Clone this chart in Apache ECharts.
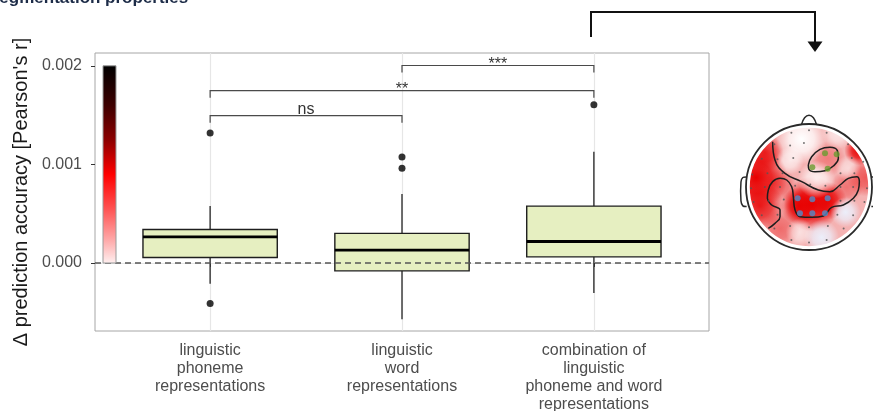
<!DOCTYPE html>
<html>
<head>
<meta charset="utf-8">
<script src="https://cdn.jsdelivr.net/npm/echarts@6/dist/echarts.min.js"></script>
<style>
  html, body { margin: 0; padding: 0; background: #ffffff; }
  #chart { width: 873px; height: 411px; }
</style>
</head>
<body>
<div id="chart"></div>
<script>
// ---- categories and box-plot statistics -------------------------------
const categories = [
  'linguistic\nphoneme\nrepresentations',
  'linguistic\nword\nrepresentations',
  'combination of\nlinguistic\nphoneme and word\nrepresentations'
];
const categoryPos = [1, 2, 3];
// [lower whisker, Q1, median, Q3, upper whisker]
const phonemeStats = [-0.00021, 0.000056, 0.000265, 0.00034, 0.000577];
const wordStats = [-0.000571, -0.00008, 0.00013, 0.0003, 0.000699];
const combinationStats = [-0.000304, 0.000062, 0.000218, 0.000577, 0.001129];
// outlying observations: [category position, value]
const outlierPoints = [[1, 0.001319], [1, -0.000412], [2, 0.001075], [2, 0.00096], [3, 0.001604]];

// ---- axes -------------------------------------------------------------
const yTickValues = [0, 0.001, 0.002];
const yMinorGridValues = [-0.0005, 0.0005, 0.0015];
const yRange = [-0.00069, 0.00213];
const xRange = [0.4, 3.6];
const zeroReference = 0;

// ---- pairwise comparisons ---------------------------------------------
const comparisonPairs = [[1, 2], [1, 3], [2, 3]];
const comparisonHeights = [0.001495, 0.001749, 0.002003];
const comparisonLabels = ['ns', '**', '***'];
const comparisonTip = 0.000072;

// ---- colour scale of the scalp map --------------------------------------
const colorbarRange = [0, 0.002];
const colorbarStops = [
  [0, '#000000'], [0.2, '#3d0000'], [0.38, '#8e0000'], [0.55, '#ff0000'],
  [0.72, '#ff5050'], [0.88, '#ffa8a8'], [1, '#fff0f0']
];

// ---- scalp map (head units, radius 1, nose up) --------------------------
const electrodeGrey = [
  [-0.28, 0.86], [0, 0.9], [0.28, 0.86],
  [-0.55, 0.68], [-0.3, 0.66], [-0.08, 0.7], [0.62, 0.68],
  [-0.75, 0.45], [-0.5, 0.44], [-0.25, 0.46], [0.68, 0.46], [0.86, 0.4],
  [-0.9, 0.2], [-0.66, 0.22], [-0.42, 0.22], [-0.15, 0.24], [0.5, 0.22], [0.72, 0.22],
  [-0.92, -0.02], [-0.7, 0], [-0.46, 0], [-0.22, 0.02], [0.02, 0.04], [0.26, 0.02], [0.5, 0], [0.7, 0], [0.92, -0.02],
  [-0.88, -0.24], [-0.64, -0.22], [-0.4, -0.2], [0.5, -0.22], [0.72, -0.22], [0.88, -0.24],
  [-0.75, -0.45], [-0.5, -0.44], [0.45, -0.44], [0.7, -0.45],
  [-0.55, -0.66], [-0.3, -0.62], [0, -0.64], [0.3, -0.62], [0.55, -0.66],
  [-0.28, -0.84], [0, -0.88], [0.28, -0.84]
];
const electrodeFrontal = [[0.254, 0.534], [0.439, 0.519], [0.053, 0.312], [0.296, 0.291]];
const electrodeCentral = [[-0.18, -0.18], [0.053, -0.196], [0.296, -0.18], [-0.143, -0.418], [0.053, -0.418], [0.254, -0.418]];
const contourOuter = [
  [-0.577, 0.72], [-0.54, 0.429], [-0.381, 0.217], [-0.116, 0.085], [0.148, -0.048], [0.333, -0.074],
  [0.492, 0.032], [0.624, 0.138], [0.757, 0.164], [0.799, 0.085], [0.783, -0.048], [0.704, -0.18],
  [0.545, -0.286], [0.36, -0.323], [0.228, -0.46], [0.042, -0.481], [-0.143, -0.471], [-0.222, -0.365],
  [-0.249, -0.153], [-0.275, 0.005], [-0.354, 0.111], [-0.46, 0.138], [-0.577, 0.085], [-0.646, -0.048],
  [-0.661, -0.18], [-0.593, -0.286], [-0.46, -0.365], [-0.46, -0.471], [-0.54, -0.577], [-0.646, -0.656]
];
const contourFrontal = [
  [-0.011, 0.349], [0.042, 0.481], [0.175, 0.598], [0.333, 0.63], [0.45, 0.577], [0.466, 0.455],
  [0.386, 0.333], [0.254, 0.259], [0.095, 0.243], [0.0, 0.281], [-0.011, 0.349]
];
// activation patches: [x, y, radius, opacity, tone index]
const fieldTones = ['232,0,0', '255,255,255', '236,238,250'];
const fieldPatches = [
  [-0.84, 0.15, 0.5, 1.0, 0], [-0.7, 0.55, 0.3, 0.8, 0], [-0.78, -0.3, 0.38, 0.85, 0],
  [0.05, -0.27, 0.44, 1.0, 0], [-0.15, -0.3, 0.3, 0.95, 0], [0.3, -0.22, 0.3, 0.9, 0],
  [0.8, 0.58, 0.24, 1.0, 0], [0.9, 0.15, 0.3, 0.5, 0], [0.3, 0.45, 0.28, 0.3, 0],
  [-0.45, -0.66, 0.3, 0.4, 0], [0.6, 0.0, 0.26, 0.35, 0], [-0.45, 0.02, 0.26, 0.4, 0],
  [-0.12, 0.76, 0.4, 1.0, 1], [0.12, 0.12, 0.3, 0.8, 1], [-0.3, 0.42, 0.22, 0.7, 1],
  [0.46, 0.86, 0.26, 0.7, 1], [0.58, -0.4, 0.24, 1.0, 2], [0.2, -0.8, 0.28, 1.0, 2],
  [-0.15, -0.72, 0.22, 0.6, 1], [0.62, 0.3, 0.2, 0.5, 1]
];
const headCenter = [0, 0];

const FONT = "'Liberation Sans', Arial, Helvetica, sans-serif";
const boxWidth = 0.7;

const boxRows = [phonemeStats, wordStats, combinationStats].map((s, i) => [categoryPos[i]].concat(s));
const comparisonRows = comparisonPairs.map((p, i) => [p[0], p[1], comparisonHeights[i]]);

const chart = echarts.init(document.getElementById('chart'), null, { renderer: 'canvas' });

function renderBox(params, api) {
  const x = api.value(0);
  const pLo = api.coord([x, api.value(1)]);
  const pQ1 = api.coord([x, api.value(2)]);
  const pMed = api.coord([x, api.value(3)]);
  const pQ3 = api.coord([x, api.value(4)]);
  const pHi = api.coord([x, api.value(5)]);
  const half = api.size([boxWidth, 0])[0] / 2;
  return {
    type: 'group',
    children: [
      { type: 'line', shape: { x1: pHi[0], y1: pHi[1], x2: pQ3[0], y2: pQ3[1] }, style: { stroke: '#333333', lineWidth: 1.4 } },
      { type: 'line', shape: { x1: pQ1[0], y1: pQ1[1], x2: pLo[0], y2: pLo[1] }, style: { stroke: '#333333', lineWidth: 1.4 } },
      { type: 'rect', shape: { x: pQ3[0] - half, y: pQ3[1], width: half * 2, height: pQ1[1] - pQ3[1] },
        style: { fill: '#e6efc1', stroke: '#1e1e1e', lineWidth: 1.4 } },
      { type: 'line', shape: { x1: pMed[0] - half, y1: pMed[1], x2: pMed[0] + half, y2: pMed[1] },
        style: { stroke: '#000000', lineWidth: 2.8 } }
    ]
  };
}

function renderComparison(params, api) {
  const a = api.value(0), b = api.value(1), y = api.value(2);
  const p1 = api.coord([a, y - comparisonTip]);
  const p2 = api.coord([a, y]);
  const p3 = api.coord([b, y]);
  const p4 = api.coord([b, y - comparisonTip]);
  const label = comparisonLabels[params.dataIndex];
  // star glyphs sit high in the em box, so they are set a little lower
  const drop = label.indexOf('*') >= 0 ? 7 : 2;
  return {
    type: 'group',
    children: [
      { type: 'polyline', shape: { points: [p1, p2, p3, p4] }, style: { stroke: '#4a4a4a', lineWidth: 1.2, fill: null } },
      { type: 'text', x: (p2[0] + p3[0]) / 2, y: p2[1] + drop,
        style: { text: label, align: 'center', verticalAlign: 'bottom', fontSize: 16, fontFamily: FONT, fill: '#333333' } }
    ]
  };
}

function renderPatch(params, api) {
  const c = api.coord([api.value(0), api.value(1)]);
  const r = api.size([api.value(2), 0])[0];
  const a = api.value(3);
  const tone = fieldTones[api.value(4)];
  return {
    type: 'circle',
    shape: { cx: c[0], cy: c[1], r: r },
    style: {
      fill: {
        type: 'radial', x: 0.5, y: 0.5, r: 0.5,
        colorStops: [
          { offset: 0, color: 'rgba(' + tone + ',' + a + ')' },
          { offset: 0.5, color: 'rgba(' + tone + ',' + (a * 0.75) + ')' },
          { offset: 1, color: 'rgba(' + tone + ',0)' }
        ]
      }
    }
  };
}

function renderHeadFill(params, api) {
  const c = api.coord([api.value(0), api.value(1)]);
  const r = api.size([1, 0])[0];
  return { type: 'circle', shape: { cx: c[0], cy: c[1], r: r }, style: { fill: '#f4b2b2' } };
}

function renderHeadOutline(params, api) {
  const c = api.coord([api.value(0), api.value(1)]);
  const r = api.size([1, 0])[0];
  const inner = r * 0.94;
  const ring = 32;
  const nose = [
    api.coord([-0.12, 0.99]), api.coord([-0.07, 1.1]), api.coord([0, 1.14]),
    api.coord([0.07, 1.1]), api.coord([0.12, 0.99])
  ];
  const earL = [
    api.coord([-0.99, 0.16]), api.coord([-1.05, 0.15]), api.coord([-1.08, 0.08]),
    api.coord([-1.08, -0.22]), api.coord([-1.05, -0.3]), api.coord([-0.99, -0.31])
  ];
  const earR = earL.map(p => [2 * c[0] - p[0], p[1]]);
  return {
    type: 'group',
    children: [
      { type: 'circle', shape: { cx: c[0], cy: c[1], r: inner + ring / 2 }, style: { fill: null, stroke: '#ffffff', lineWidth: ring } },
      { type: 'polyline', shape: { points: nose, smooth: 0.4 }, style: { fill: '#ffffff', stroke: '#2a2a2a', lineWidth: 1.5 } },
      { type: 'polyline', shape: { points: earL, smooth: 0.3 }, style: { fill: '#ffffff', stroke: '#2a2a2a', lineWidth: 1.5 } },
      { type: 'polyline', shape: { points: earR, smooth: 0.3 }, style: { fill: '#ffffff', stroke: '#2a2a2a', lineWidth: 1.5 } },
      { type: 'circle', shape: { cx: c[0], cy: c[1], r: r }, style: { fill: null, stroke: '#2a2a2a', lineWidth: 1.8 } }
    ]
  };
}

const option = {
  animation: false,
  backgroundColor: '#ffffff',
  textStyle: { fontFamily: FONT },
  grid: [
    { left: 95, top: 53, width: 614, height: 278, outerBoundsMode: 'none', containLabel: false,
      show: true, borderColor: '#a6a6a6', borderWidth: 1, backgroundColor: 'transparent' },
    { left: 746, top: 124, width: 126, height: 126, outerBoundsMode: 'none', containLabel: false, show: false }
  ],
  xAxis: [
    {
      type: 'value', gridIndex: 0, min: xRange[0], max: xRange[1],
      axisLine: { show: false },
      axisTick: { show: true, customValues: categoryPos, length: 4, lineStyle: { color: '#333333', width: 1 } },
      axisLabel: {
        customValues: categoryPos,
        formatter: v => categories[Math.round(v) - 1],
        fontSize: 16, lineHeight: 18, margin: 11, color: '#4d4d4d', fontFamily: FONT
      },
      splitLine: { show: false }
    },
    { type: 'value', gridIndex: 1, min: -1, max: 1, show: false }
  ],
  yAxis: [
    {
      type: 'value', gridIndex: 0, min: yRange[0], max: yRange[1],
      name: 'Δ prediction accuracy [Pearson\'s r]',
      nameLocation: 'middle', nameGap: 60, nameRotate: 90,
      nameTextStyle: { fontSize: 20, color: '#1a1a1a', fontFamily: FONT },
      axisLine: { show: false },
      axisTick: { show: true, customValues: yTickValues, length: 4, lineStyle: { color: '#333333', width: 1 } },
      axisLabel: {
        customValues: yTickValues,
        formatter: v => v.toFixed(3),
        fontSize: 16, margin: 13, color: '#4d4d4d', fontFamily: FONT
      },
      splitLine: { show: false }
    },
    { type: 'value', gridIndex: 1, min: -1, max: 1, show: false }
  ],
  series: [
    {
      name: 'grid', type: 'line', xAxisIndex: 0, yAxisIndex: 0, data: [], z: 0, silent: true,
      markLine: {
        z: 0, silent: true, symbol: 'none', label: { show: false }, animation: false,
        data: []
          .concat(yMinorGridValues.map(v => ({ yAxis: v, lineStyle: { color: '#f0f0f0', width: 1, type: 'solid' } })))
          .concat(yTickValues.map(v => ({ yAxis: v, lineStyle: { color: '#e6e6e6', width: 1.2, type: 'solid' } })))
          .concat(categoryPos.map(v => ({ xAxis: v, lineStyle: { color: '#e6e6e6', width: 1.2, type: 'solid' } })))
      }
    },
    {
      name: 'boxes', type: 'custom', xAxisIndex: 0, yAxisIndex: 0, z: 2,
      renderItem: renderBox, encode: { x: 0, y: [1, 2, 3, 4, 5] }, data: boxRows
    },
    {
      name: 'zero', type: 'line', xAxisIndex: 0, yAxisIndex: 0, data: [], z: 3, silent: true,
      markLine: {
        z: 3, silent: true, symbol: 'none', label: { show: false }, animation: false,
        lineStyle: { color: '#555555', width: 1.7, type: [6, 4] },
        data: [{ yAxis: zeroReference }]
      }
    },
    {
      name: 'outliers', type: 'scatter', xAxisIndex: 0, yAxisIndex: 0, z: 4,
      symbol: 'circle', symbolSize: 7, itemStyle: { color: '#000000' }, data: outlierPoints
    },
    {
      name: 'comparisons', type: 'custom', xAxisIndex: 0, yAxisIndex: 0, z: 4,
      renderItem: renderComparison, encode: { x: [0, 1], y: 2 }, data: comparisonRows
    },
    {
      name: 'headFill', type: 'custom', xAxisIndex: 1, yAxisIndex: 1, z: 1,
      renderItem: renderHeadFill, encode: { x: 0, y: 1 }, data: [headCenter]
    },
    {
      name: 'field', type: 'custom', xAxisIndex: 1, yAxisIndex: 1, z: 2, clip: true,
      renderItem: renderPatch, encode: { x: 0, y: 1 }, data: fieldPatches
    },
    {
      name: 'headOutline', type: 'custom', xAxisIndex: 1, yAxisIndex: 1, z: 3,
      renderItem: renderHeadOutline, encode: { x: 0, y: 1 }, data: [headCenter]
    },
    {
      name: 'contourOuter', type: 'line', xAxisIndex: 1, yAxisIndex: 1, z: 4, smooth: 0.45,
      symbol: 'none', lineStyle: { color: '#1e1e1e', width: 1.5 }, data: contourOuter, silent: true
    },
    {
      name: 'contourFrontal', type: 'line', xAxisIndex: 1, yAxisIndex: 1, z: 4, smooth: 0.45,
      symbol: 'none', lineStyle: { color: '#1e1e1e', width: 1.5 }, data: contourFrontal, silent: true
    },
    {
      name: 'electrodes', type: 'scatter', xAxisIndex: 1, yAxisIndex: 1, z: 5,
      symbolSize: 2, itemStyle: { color: '#555555' }, data: electrodeGrey, silent: true
    },
    {
      name: 'frontal', type: 'scatter', xAxisIndex: 1, yAxisIndex: 1, z: 6,
      symbolSize: 6, itemStyle: { color: '#6b9b2f' }, data: electrodeFrontal, silent: true
    },
    {
      name: 'central', type: 'scatter', xAxisIndex: 1, yAxisIndex: 1, z: 6,
      symbolSize: 6, itemStyle: { color: '#4f8cc9' }, data: electrodeCentral, silent: true
    }
  ]
};

chart.setOption(option);

// colour bar placed alongside the y scale, spanning its value range
const cbTop = chart.convertToPixel({ yAxisIndex: 0 }, colorbarRange[1]);
const cbBottom = chart.convertToPixel({ yAxisIndex: 0 }, colorbarRange[0]);

chart.setOption({
  graphic: [
    {
      type: 'text', left: -12, top: -10, z: 10,
      style: { text: 'Segmentation properties', fontSize: 17, fontWeight: 'bold', fontFamily: FONT, fill: '#1d2c48' }
    },
    {
      type: 'rect', z: 10,
      shape: { x: 103, y: cbTop, width: 13, height: cbBottom - cbTop },
      style: {
        fill: new echarts.graphic.LinearGradient(0, 0, 0, 1, colorbarStops.map(s => ({ offset: s[0], color: s[1] }))),
        stroke: '#9a9a9a', lineWidth: 1
      }
    },
    {
      type: 'polyline', z: 10,
      shape: { points: [[591, 37], [591, 12], [815, 12], [815, 43]] },
      style: { stroke: '#111111', lineWidth: 2, fill: null }
    },
    {
      type: 'polygon', z: 10,
      shape: { points: [[807.5, 41.5], [822.5, 41.5], [815, 52]] },
      style: { fill: '#111111' }
    }
  ]
});
</script>
</body>
</html>
